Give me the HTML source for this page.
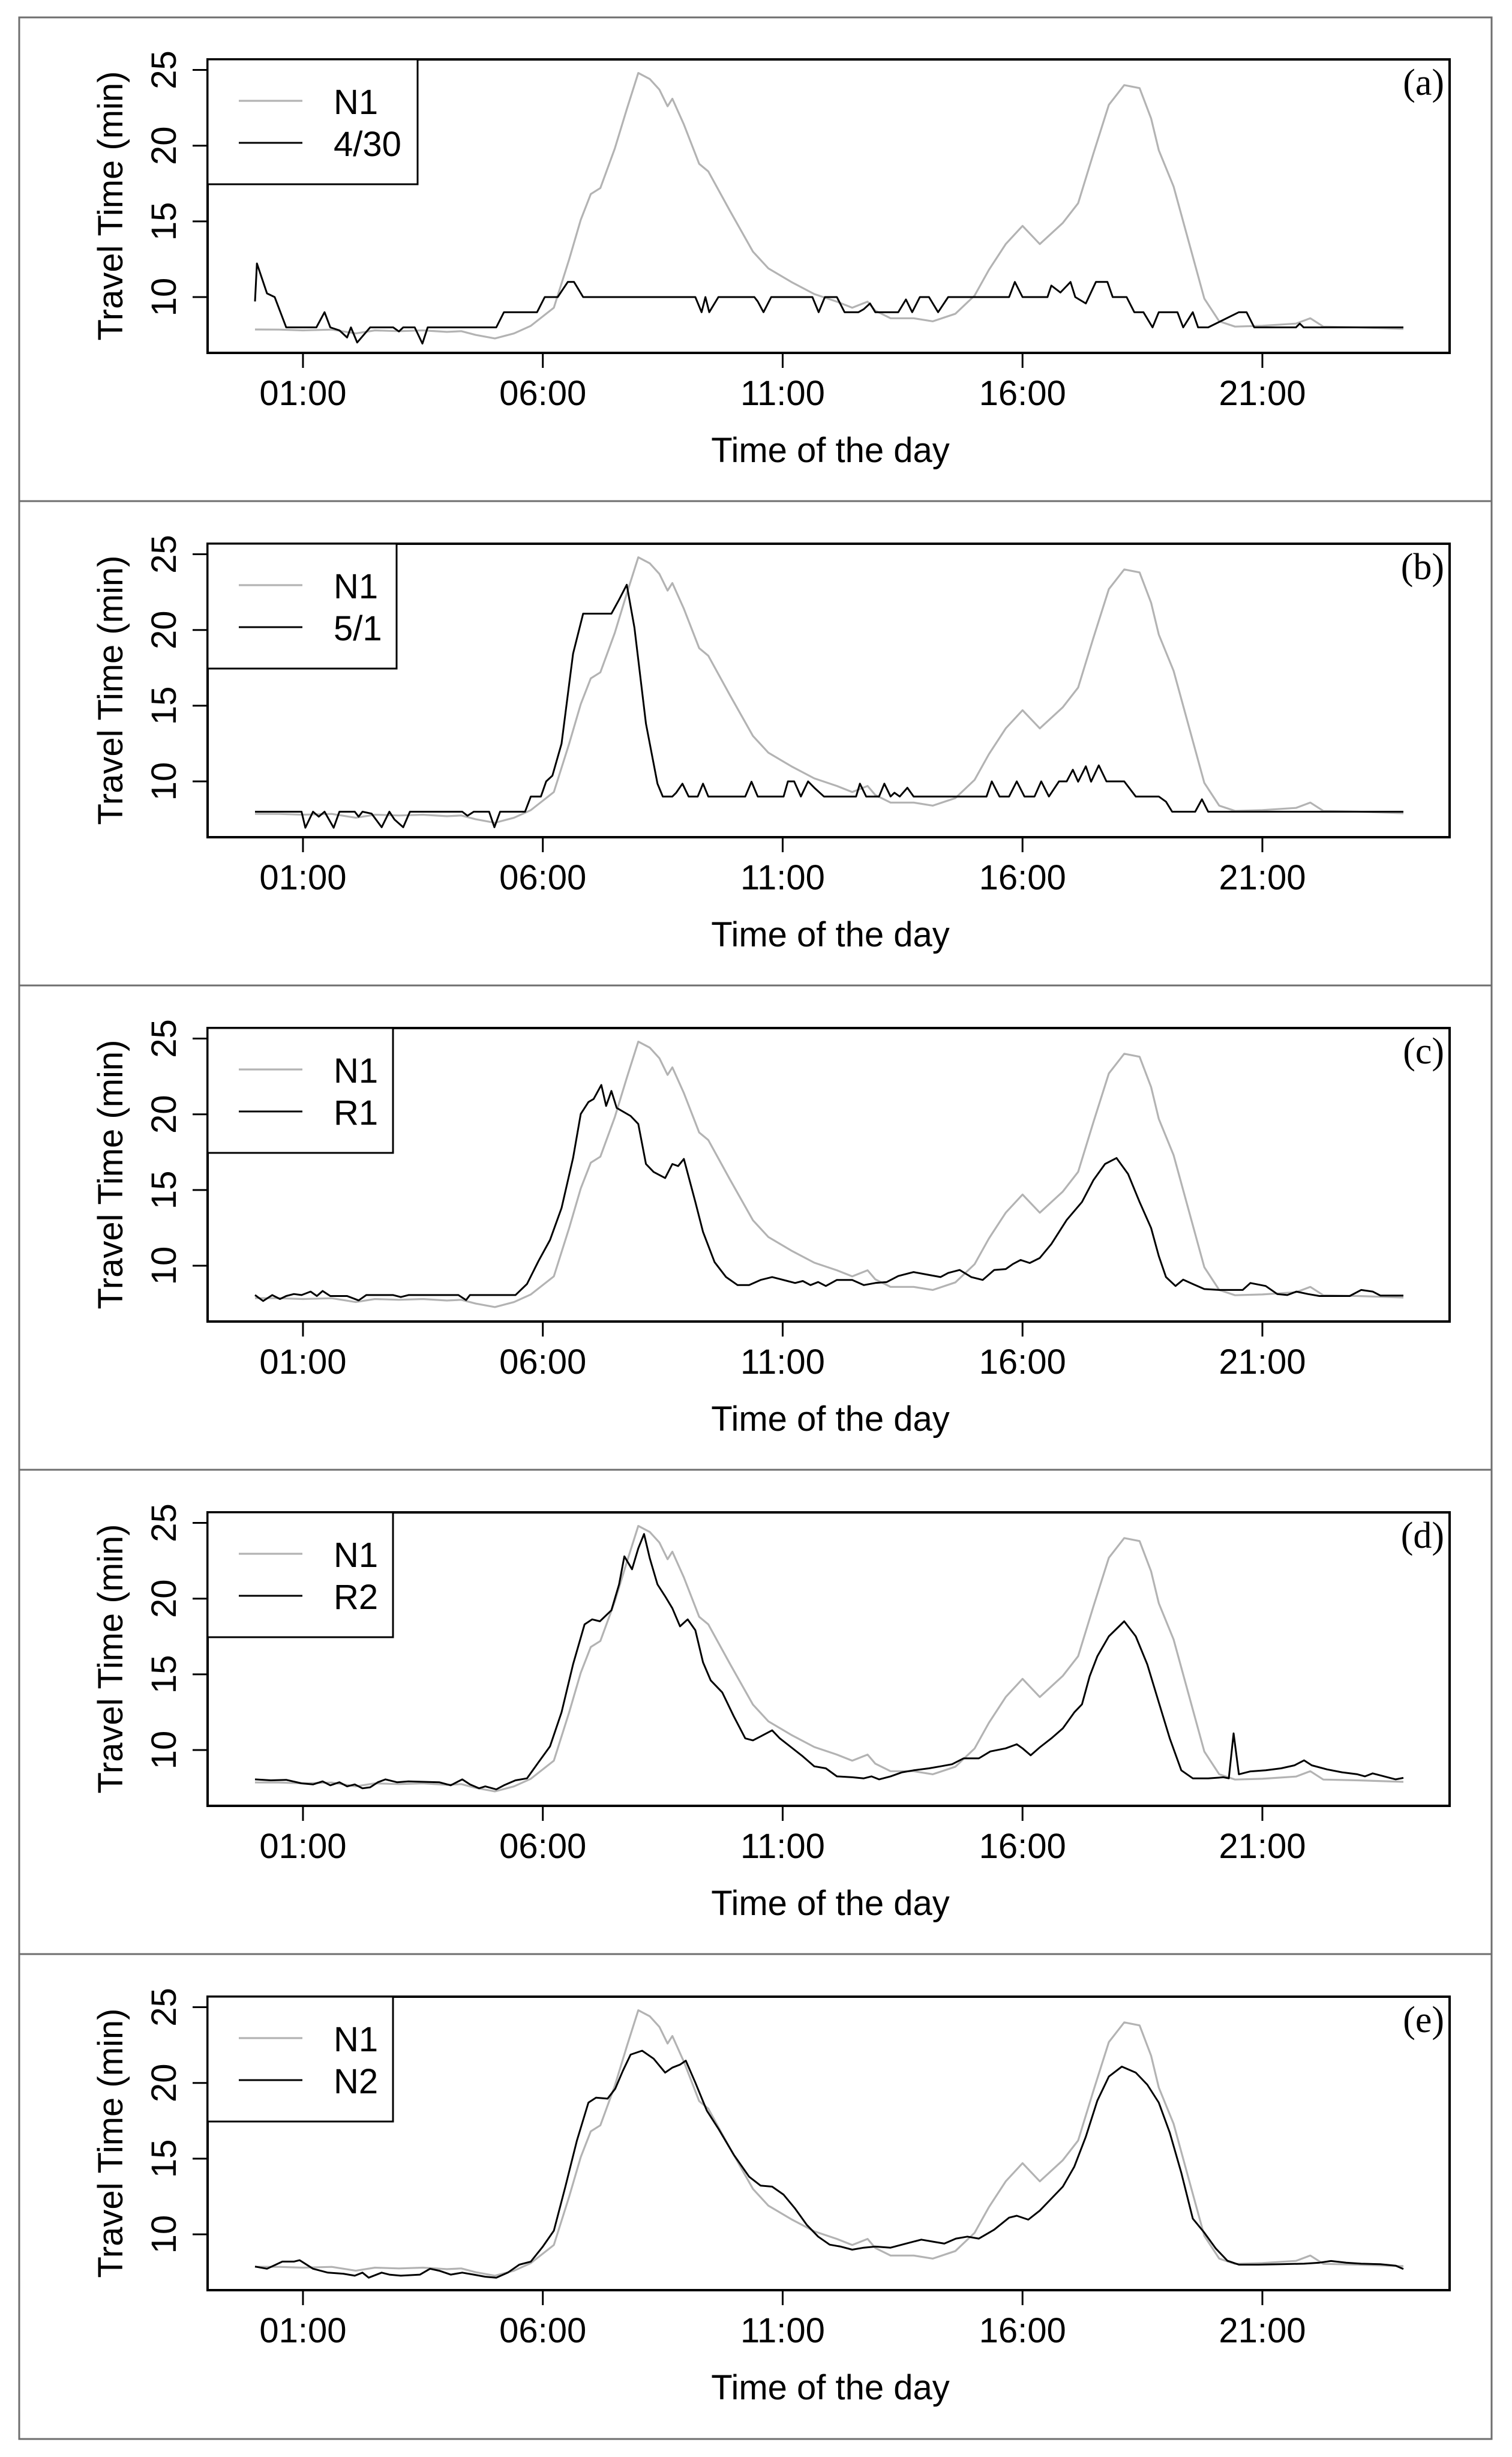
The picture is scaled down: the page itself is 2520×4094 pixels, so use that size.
<!DOCTYPE html>
<html>
<head>
<meta charset="utf-8">
<style>
html,body{margin:0;padding:0;background:#fff;}
svg{display:block;}
text{font-family:"Liberation Sans",Arial,sans-serif;fill:#000;}
.serif{font-family:"Liberation Serif","Times New Roman",serif;}
</style>
</head>
<body>
<svg id="fig" xmlns="http://www.w3.org/2000/svg" width="2520" height="4094" viewBox="0 0 2520 4094">
<rect x="0" y="0" width="2520" height="4094" fill="#fff"/>
</svg>
<script>
// ---- shared axis data ----
const xTickHours = [1, 6, 11, 16, 21];
const xTickLabels = ["01:00", "06:00", "11:00", "16:00", "21:00"];
const yTickValues = [10, 15, 20, 25];
const yTickLabels = ["10", "15", "20", "25"];
const panelLetters = ["(a)", "(b)", "(c)", "(d)", "(e)"];
const seriesNames = ["4/30", "5/1", "R1", "R2", "N2"];

// ---- N1 reference series (gray, same in every panel) ----
const n1Hours = [0.0,0.5,1.0,1.6,2.1,2.5,3.0,3.5,4.0,4.3,4.6,5.0,5.4,5.75,6.23,6.55,6.79,7.0,7.2,7.5,7.75,7.99,8.23,8.43,8.6,8.7,8.94,9.26,9.45,9.9,10.38,10.7,11.18,11.66,12.13,12.45,12.77,12.93,13.25,13.73,14.13,14.6,15.0,15.3,15.65,16.0,16.36,16.84,17.16,17.48,17.8,18.12,18.44,18.68,18.84,19.15,19.47,19.79,20.1,20.43,21.0,21.7,22.0,22.27,23.0,23.94];
const n1Values = [7.86,7.85,7.8,7.85,7.6,7.8,7.75,7.8,7.7,7.75,7.5,7.27,7.6,8.1,9.3,12.5,15.1,16.8,17.2,19.8,22.4,24.8,24.4,23.7,22.6,23.1,21.4,18.8,18.3,15.7,13.0,11.9,11.0,10.2,9.7,9.3,9.7,9.1,8.6,8.6,8.4,8.9,10.1,11.8,13.5,14.7,13.5,14.9,16.2,19.5,22.7,24.0,23.8,21.8,19.7,17.3,13.6,9.9,8.4,8.05,8.1,8.25,8.6,8.05,8.0,7.9];

// ---- panel (a): 4/30 ----
const s430Hours = [0.0,0.04,0.25,0.41,0.65,1.28,1.45,1.57,1.76,1.92,2.0,2.13,2.4,2.88,3.0,3.09,3.33,3.49,3.6,5.03,5.19,5.88,6.04,6.31,6.52,6.65,6.84,9.18,9.31,9.39,9.47,9.66,10.41,10.48,10.6,10.76,11.62,11.75,11.88,12.13,12.29,12.58,12.69,12.82,12.93,13.41,13.57,13.7,13.86,14.05,14.24,14.45,15.72,15.84,16.0,16.52,16.6,16.79,17.0,17.1,17.32,17.53,17.77,17.88,18.17,18.33,18.52,18.71,18.84,19.23,19.35,19.55,19.66,19.87,20.51,20.67,20.83,21.7,21.78,21.86,23.94];
const s430Values = [9.71,12.22,10.24,10.0,8.0,8.0,9.0,8.0,7.8,7.33,8.0,7.0,8.0,8.0,7.73,8.0,8.0,6.93,8.0,8.0,9.0,9.0,10.0,10.0,11.0,11.0,10.0,10.0,9.0,10.0,9.0,10.0,10.0,9.71,9.0,10.0,10.0,9.0,10.0,10.0,9.0,9.0,9.2,9.58,9.0,9.0,9.84,9.0,10.0,10.0,9.0,10.0,10.0,11.0,10.0,10.0,10.76,10.3,11.0,10.0,9.58,11.0,11.0,10.0,10.0,9.0,9.0,8.0,9.0,9.0,8.0,9.0,8.0,8.0,9.0,9.0,8.0,8.0,8.25,8.0,8.0];

// ---- panel (b): 5/1 ----
const s51Hours = [0.0,0.97,1.05,1.21,1.33,1.45,1.64,1.76,2.08,2.16,2.24,2.43,2.64,2.8,2.91,3.09,3.23,4.32,4.43,4.56,4.88,4.99,5.11,5.63,5.75,5.96,6.07,6.2,6.39,6.63,6.84,6.95,7.43,7.59,7.75,7.91,8.15,8.39,8.5,8.7,8.78,8.91,9.04,9.23,9.34,9.45,10.22,10.35,10.48,11.02,11.11,11.24,11.38,11.53,11.66,11.86,12.53,12.61,12.74,13.01,13.12,13.25,13.33,13.44,13.6,13.73,15.25,15.36,15.52,15.72,15.88,16.04,16.25,16.39,16.55,16.76,16.92,17.05,17.16,17.32,17.43,17.59,17.75,18.12,18.36,18.84,18.99,19.12,19.6,19.74,19.87,23.94];
const s51Values = [8.0,8.0,6.94,8.0,7.67,8.0,6.94,8.0,8.0,7.67,8.0,7.87,6.97,8.0,7.47,6.97,8.0,8.0,7.73,8.0,8.0,6.97,8.0,8.0,9.0,9.0,10.0,10.38,12.49,18.43,21.08,21.08,21.08,22.0,22.99,20.15,13.81,9.85,9.0,9.0,9.25,9.85,9.0,9.0,9.85,9.0,9.0,9.98,9.0,9.0,10.0,10.0,9.0,10.0,9.58,9.0,9.0,9.85,9.0,9.0,9.85,9.0,9.25,9.0,9.58,9.0,9.0,10.0,9.0,9.0,10.0,9.0,9.0,10.0,9.0,10.0,10.0,10.77,9.98,11.0,9.98,11.06,10.0,10.0,9.0,9.0,8.66,8.0,8.0,8.82,8.0,8.0];

// ---- panel (c): R1 ----
const r1Hours = [0.0,0.17,0.36,0.52,0.65,0.81,0.97,1.16,1.29,1.41,1.57,1.92,2.16,2.32,2.88,3.04,3.2,4.24,4.4,4.48,5.43,5.67,5.91,6.15,6.39,6.63,6.79,6.95,7.06,7.22,7.32,7.43,7.54,7.83,7.99,8.15,8.31,8.55,8.7,8.82,8.94,9.18,9.34,9.58,9.82,10.06,10.3,10.54,10.78,10.94,11.1,11.26,11.42,11.58,11.74,11.9,12.13,12.45,12.69,12.93,13.17,13.41,13.73,14.05,14.29,14.45,14.69,14.93,15.17,15.41,15.65,15.8,15.96,16.15,16.36,16.6,16.92,17.24,17.48,17.72,17.96,18.2,18.44,18.68,18.84,18.99,19.19,19.35,19.55,19.79,20.1,20.59,20.75,21.07,21.31,21.52,21.71,21.95,22.19,22.82,23.06,23.3,23.46,23.94];
const r1Values = [8.06,7.67,8.06,7.8,8.0,8.13,8.06,8.29,8.0,8.33,8.0,8.0,7.71,8.06,8.06,7.93,8.06,8.06,7.73,8.06,8.06,8.79,10.31,11.7,13.81,17.11,20.02,20.81,21.01,21.94,20.55,21.54,20.42,19.89,19.36,16.72,16.19,15.79,16.72,16.58,17.05,14.21,12.23,10.24,9.25,8.72,8.72,9.06,9.25,9.12,8.99,8.86,8.99,8.72,8.92,8.66,9.06,9.06,8.72,8.86,8.92,9.32,9.58,9.39,9.25,9.52,9.72,9.25,9.06,9.72,9.78,10.11,10.38,10.18,10.51,11.43,13.02,14.21,15.66,16.72,17.11,16.06,14.21,12.49,10.64,9.25,8.66,9.08,8.79,8.46,8.4,8.4,8.86,8.66,8.13,8.06,8.29,8.13,8.0,8.0,8.4,8.29,8.03,8.03];

// ---- panel (d): R2 ----
const r2Hours = [0.0,0.33,0.65,0.97,1.21,1.41,1.57,1.76,1.92,2.08,2.24,2.4,2.56,2.72,2.96,3.2,3.84,4.08,4.32,4.48,4.67,4.8,5.03,5.19,5.43,5.67,5.91,6.15,6.39,6.63,6.87,7.03,7.19,7.43,7.59,7.7,7.86,7.99,8.11,8.23,8.39,8.55,8.7,8.86,9.02,9.18,9.34,9.5,9.74,9.98,10.22,10.38,10.54,10.78,10.94,11.18,11.42,11.66,11.9,12.13,12.45,12.69,12.85,13.01,13.25,13.49,13.73,14.05,14.29,14.53,14.77,15.09,15.33,15.65,15.88,16.0,16.17,16.36,16.6,16.84,17.08,17.24,17.4,17.56,17.8,18.12,18.36,18.6,18.84,19.07,19.31,19.55,19.87,20.19,20.3,20.4,20.51,20.75,21.07,21.39,21.67,21.87,22.03,22.35,22.66,22.98,23.14,23.3,23.54,23.78,23.94];
const r2Values = [8.06,8.0,8.03,7.8,7.73,7.93,7.67,7.87,7.6,7.73,7.47,7.54,7.87,8.06,7.87,7.93,7.87,7.67,8.06,7.73,7.47,7.6,7.4,7.67,8.0,8.13,9.19,10.24,12.49,15.66,18.3,18.63,18.5,19.23,20.94,22.79,21.94,23.32,24.27,22.66,20.94,20.15,19.36,18.17,18.63,17.91,15.79,14.6,13.81,12.23,10.77,10.64,10.9,11.3,10.77,10.18,9.58,8.92,8.79,8.26,8.2,8.13,8.26,8.06,8.26,8.53,8.66,8.79,8.92,9.06,9.45,9.45,9.91,10.11,10.38,10.11,9.65,10.18,10.77,11.43,12.49,13.02,14.87,16.19,17.51,18.5,17.51,15.66,13.15,10.77,8.66,8.13,8.13,8.2,8.13,11.1,8.4,8.59,8.66,8.79,8.99,9.32,8.99,8.72,8.53,8.4,8.26,8.46,8.26,8.06,8.16];

// ---- panel (e): N2 ----
const n2Hours = [0.0,0.25,0.57,0.81,0.93,1.21,1.52,1.84,2.08,2.24,2.37,2.64,2.8,3.04,3.44,3.65,3.84,4.08,4.32,4.56,4.8,5.03,5.27,5.51,5.75,6.0,6.23,6.47,6.71,6.95,7.11,7.35,7.51,7.67,7.83,8.07,8.31,8.55,8.7,8.86,8.98,9.18,9.42,9.66,9.98,10.3,10.54,10.78,11.02,11.26,11.5,11.74,11.98,12.21,12.45,12.69,12.93,13.25,13.57,13.89,14.13,14.37,14.61,14.85,15.09,15.41,15.72,15.88,16.12,16.36,16.6,16.84,17.08,17.32,17.56,17.8,18.07,18.36,18.6,18.84,19.07,19.31,19.55,19.79,20.03,20.27,20.51,20.91,21.39,21.87,22.19,22.43,22.75,23.06,23.46,23.78,23.94];
const n2Values = [7.87,7.73,8.2,8.2,8.29,7.73,7.47,7.4,7.27,7.47,7.14,7.47,7.34,7.27,7.34,7.73,7.6,7.34,7.47,7.34,7.2,7.14,7.47,8.0,8.2,9.19,10.24,13.15,16.19,18.7,19.03,18.96,19.62,20.81,21.87,22.13,21.6,20.68,21.01,21.21,21.47,20.02,18.17,16.98,15.26,13.81,13.22,13.15,12.62,11.7,10.64,9.85,9.32,9.19,8.99,9.12,9.19,9.12,9.39,9.65,9.52,9.39,9.72,9.85,9.72,10.31,11.1,11.23,10.97,11.57,12.36,13.15,14.47,16.45,18.83,20.42,21.08,20.68,19.89,18.7,16.72,14.07,11.04,10.11,9.06,8.26,8.0,8.0,8.03,8.06,8.13,8.24,8.13,8.06,8.03,7.93,7.71];

const panelHours = [s430Hours, s51Hours, r1Hours, r2Hours, n2Hours];
const panelValues = [s430Values, s51Values, r1Values, r2Values, n2Values];

// ---- layout ----
const NS = "http://www.w3.org/2000/svg";
const svg = document.getElementById("fig");
const PITCH = 807;
const PL = 346, PR = 2416, PT = 99, PB = 588;
const legendRight = [696, 661, 655, 655, 655];
function xScale(h){ return 425 + 79.95 * h; }
function yScale(v, dy){ return 495 - (v - 10) * 25.23 + dy; }
function mk(tag, attrs, parent){
  const e = document.createElementNS(NS, tag);
  for (const k in attrs) e.setAttribute(k, attrs[k]);
  (parent || svg).appendChild(e);
  return e;
}
function pathFrom(hours, vals, dy){
  let d = "";
  for (let i = 0; i < hours.length; i++){
    d += (i ? "L" : "M") + xScale(hours[i]).toFixed(1) + " " + yScale(vals[i], dy).toFixed(1);
  }
  return d;
}

// outer frame
const frame = mk("rect", {x:32, y:29, width:2454, height:4035, fill:"none", stroke:"#6e6e6e", "stroke-width":3});



for (let p = 0; p < 5; p++){
  const dy = p * PITCH;
  const g = mk("g", {});
  
  

  if (p > 0){
    const sep = mk("line", {x1:32, x2:2486, y1:28 + dy, y2:28 + dy, stroke:"#6e6e6e", "stroke-width":3}, g);
    
    
  }

  const clipId = "clip" + p;
  const cp = mk("clipPath", {id: clipId}, g);
  mk("rect", {x:PL, y:PT + dy, width:PR - PL, height:PB - PT}, cp);

  // N1 gray line
  const n1 = mk("path", {d: pathFrom(n1Hours, n1Values, dy), fill:"none", stroke:"#b3b3b3", "stroke-width":3.2, "stroke-linejoin":"round", "clip-path":"url(#" + clipId + ")"}, g);
  
  

  // comparison black line
  const bl = mk("path", {d: pathFrom(panelHours[p], panelValues[p], dy), fill:"none", stroke:"#000", "stroke-width":3, "stroke-linejoin":"round", "clip-path":"url(#" + clipId + ")"}, g);
  
  

  // plot box
  const box = mk("rect", {x:PL, y:PT + dy, width:PR - PL, height:PB - PT, fill:"none", stroke:"#000", "stroke-width":4}, g);
  
  

  // y ticks
  for (let i = 0; i < yTickValues.length; i++){
    const yy = yScale(yTickValues[i], dy);
    const t = mk("line", {x1:321, x2:PL, y1:yy, y2:yy, stroke:"#000", "stroke-width":3}, g);
    
    
    const lb = mk("text", {x:0, y:0, "font-size":58, "text-anchor":"middle", transform:"translate(293," + yy + ") rotate(-90)"}, g);
    lb.textContent = yTickLabels[i];
    
    
  }
  // x ticks
  for (let i = 0; i < xTickHours.length; i++){
    const xx = xScale(xTickHours[i]);
    const t = mk("line", {x1:xx, x2:xx, y1:PB + dy, y2:613 + dy, stroke:"#000", "stroke-width":3}, g);
    
    
    const lb = mk("text", {x:xx, y:675 + dy, "font-size":58, "text-anchor":"middle"}, g);
    lb.textContent = xTickLabels[i];
    
    
  }

  // axis titles
  const xt = mk("text", {x:1384, y:770 + dy, "font-size":58, "text-anchor":"middle"}, g);
  xt.textContent = "Time of the day";
  
  
  const yt = mk("text", {x:0, y:0, "font-size":58, "text-anchor":"middle", transform:"translate(204," + (343 + dy) + ") rotate(-90)"}, g);
  yt.textContent = "Travel Time (min)";
  
  

  // panel letter
  const pl = mk("text", {x:2407, y:158 + dy, "font-size":62, "text-anchor":"end", "class":"serif"}, g);
  pl.textContent = panelLetters[p];
  
  

  // legend
  const lg = mk("g", {}, g);
  
  
  mk("rect", {x:PL, y:PT + dy, width:legendRight[p] - PL, height:208, fill:"#fff", stroke:"#000", "stroke-width":3}, lg);
  const e1 = mk("g", {}, lg);
  
  
  mk("line", {x1:398, x2:504, y1:168 + dy, y2:168 + dy, stroke:"#b3b3b3", "stroke-width":3.2}, e1);
  const t1 = mk("text", {x:556, y:190 + dy, "font-size":58}, e1);
  t1.textContent = "N1";
  const e2 = mk("g", {}, lg);
  
  
  mk("line", {x1:398, x2:504, y1:238 + dy, y2:238 + dy, stroke:"#000", "stroke-width":3}, e2);
  const t2 = mk("text", {x:556, y:260 + dy, "font-size":58}, e2);
  t2.textContent = seriesNames[p];
}
</script>
</body>
</html>
